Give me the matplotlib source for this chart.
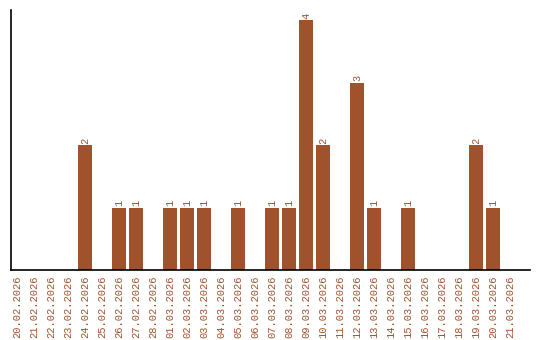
import matplotlib
matplotlib.use("Agg")
import matplotlib.pyplot as plt

# daily counts
dates = [
    "20.02.2026", "21.02.2026", "22.02.2026", "23.02.2026", "24.02.2026",
    "25.02.2026", "26.02.2026", "27.02.2026", "28.02.2026", "01.03.2026",
    "02.03.2026", "03.03.2026", "04.03.2026", "05.03.2026", "06.03.2026",
    "07.03.2026", "08.03.2026", "09.03.2026", "10.03.2026", "11.03.2026",
    "12.03.2026", "13.03.2026", "14.03.2026", "15.03.2026", "16.03.2026",
    "17.03.2026", "18.03.2026", "19.03.2026", "20.03.2026", "21.03.2026",
]
counts = [0, 0, 0, 0, 2, 0, 1, 1, 0, 1,
          1, 1, 0, 1, 0, 1, 1, 4, 2, 0,
          3, 1, 0, 1, 0, 0, 0, 2, 1, 0]

COLOR = "#a0522d"
FONT = "Liberation Mono"

fig = plt.figure(figsize=(5.4, 3.4), dpi=100, facecolor="white")
ax = fig.add_axes([11 / 540, 1 - 270 / 340, (530 - 11) / 540, 260 / 340])

x = list(range(len(dates)))
ax.bar(x, counts, width=0.82, color=COLOR)

for xi, c in zip(x, counts):
    if c > 0:
        ax.text(xi, c + 0.02, str(c), rotation=90, ha="center", va="bottom",
                fontsize=7.5, color=COLOR, family=FONT)

ax.set_xlim(-0.35, 30.18)
ax.set_ylim(0, 4.16)
ax.set_xticks(x)
ax.set_xticklabels(dates, rotation=90, fontsize=7.5, color=COLOR, family=FONT)
ax.tick_params(axis="x", length=0, pad=4)
ax.set_yticks([])
for side in ("top", "right"):
    ax.spines[side].set_visible(False)
for side in ("left", "bottom"):
    ax.spines[side].set_linewidth(1.2)

fig.savefig("out.png", dpi=100, facecolor="white")
